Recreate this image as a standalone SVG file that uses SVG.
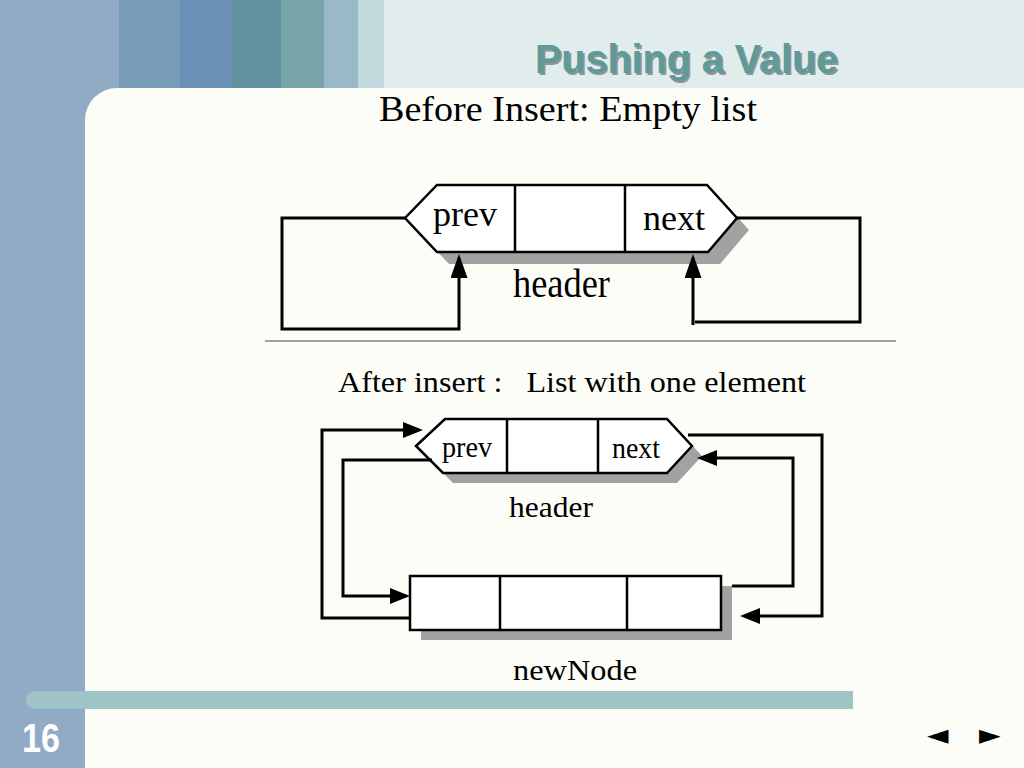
<svg xmlns="http://www.w3.org/2000/svg" width="1024" height="768" viewBox="0 0 1024 768">
<defs>
<style>
.serif{font-family:"Liberation Serif","Times New Roman",serif;fill:#000}
.ln{fill:none;stroke:#000;stroke-width:3;stroke-linejoin:miter}
.hex{fill:#fff;stroke:#000;stroke-width:2.5;stroke-linejoin:miter}
.shadow{fill:#a2a2a2}
.div{stroke:#000;stroke-width:2.5}
</style>
<marker id="arrBig" markerUnits="userSpaceOnUse" markerWidth="24" markerHeight="17" viewBox="0 0 24 17" refX="20" refY="8.5" orient="auto">
<path d="M0,0 L24,8.5 L0,17 Z" fill="#000"/>
</marker>
<marker id="arr" markerUnits="userSpaceOnUse" markerWidth="20" markerHeight="16" viewBox="0 0 20 16" refX="16" refY="8" orient="auto">
<path d="M0,0 L20,8 L0,16 Z" fill="#000"/>
</marker>
</defs>

<!-- background -->
<rect x="0" y="0" width="1024" height="768" fill="#91abc4"/>
<rect x="119" y="0" width="61" height="90" fill="#789db8"/>
<rect x="180" y="0" width="51" height="90" fill="#6b90b5"/>
<rect x="231" y="0" width="50" height="90" fill="#6292a2"/>
<rect x="281" y="0" width="43" height="90" fill="#78a4aa"/>
<rect x="324" y="0" width="34" height="90" fill="#99b9c8"/>
<rect x="358" y="0" width="26" height="90" fill="#c1d9dc"/>
<rect x="384" y="0" width="640" height="90" fill="#e1eded"/>
<path d="M85,768 V120 A32,32 0 0 1 117,88 H1024 V768 Z" fill="#fdfdf8"/>
<path d="M35,691 H853 V709 H35 A9,9 0 0 1 35,691 Z" fill="#9fc4c5"/>

<!-- title -->
<g id="title" font-family="'Liberation Sans',Arial,sans-serif" font-weight="bold" font-size="40">
<text x="537" y="75" fill="#8c9696" textLength="303" lengthAdjust="spacingAndGlyphs">Pushing a Value</text>
<text x="535" y="73" fill="#5f9a98" textLength="303" lengthAdjust="spacingAndGlyphs">Pushing a Value</text>
</g>
<text x="22" y="752" font-family="'Liberation Sans',Arial,sans-serif" font-weight="bold" font-size="40" fill="#fff" textLength="38" lengthAdjust="spacingAndGlyphs">16</text>
<g id="nav" font-family="'DejaVu Sans',sans-serif" font-size="28" fill="#000">
<text x="927" y="744">◄</text>
<text x="979" y="744">►</text>
</g>

<!-- headings -->
<text class="serif" x="379" y="121" font-size="35" textLength="378" lengthAdjust="spacingAndGlyphs">Before Insert: Empty list</text>
<text class="serif" x="338" y="392" font-size="29" textLength="468" lengthAdjust="spacingAndGlyphs" xml:space="preserve">After insert :   List with one element</text>
<line x1="265" y1="341" x2="896" y2="341" stroke="#444" stroke-width="1"/>

<!-- top header node -->
<g id="header-empty">
<polygon class="shadow" points="417,230 449,197 719,197 749,230 720,264 449,264"/>
<polygon class="hex" points="405,218 437,185 707,185 737,218 708,252 437,252"/>
<line class="div" x1="515" y1="185" x2="515" y2="252"/>
<line class="div" x1="625" y1="185" x2="625" y2="252"/>
<text class="serif" x="433" y="226" font-size="36" textLength="64" lengthAdjust="spacingAndGlyphs">prev</text>
<text class="serif" x="643" y="230" font-size="36" textLength="62" lengthAdjust="spacingAndGlyphs">next</text>
<text class="serif" x="513" y="297" font-size="39" textLength="97" lengthAdjust="spacingAndGlyphs">header</text>
</g>

<!-- bottom header node -->
<g id="header-one">
<polygon class="shadow" points="426,456 455,429 677,429 702,456 677,483 453,483"/>
<polygon class="hex" points="416,446 445,419 667,419 692,446 667,473 443,473"/>
<line class="div" x1="507" y1="419" x2="507" y2="473"/>
<line class="div" x1="598" y1="419" x2="598" y2="473"/>
<text class="serif" x="442" y="457" font-size="29" textLength="50" lengthAdjust="spacingAndGlyphs">prev</text>
<text class="serif" x="612" y="458" font-size="29" textLength="48" lengthAdjust="spacingAndGlyphs">next</text>
<text class="serif" x="509" y="517" font-size="30" textLength="84" lengthAdjust="spacingAndGlyphs">header</text>
</g>

<!-- newNode -->
<g id="newNode">
<rect class="shadow" x="421" y="586" width="311" height="54" fill="#9a9aa0"/>
<rect x="410" y="576" width="311" height="54" fill="#fff" stroke="#000" stroke-width="2.5"/>
<line class="div" x1="500" y1="576" x2="500" y2="630"/>
<line class="div" x1="627" y1="576" x2="627" y2="630"/>
<text class="serif" x="513" y="680" font-size="30" textLength="124" lengthAdjust="spacingAndGlyphs">newNode</text>
</g>

<!-- connectors -->
<g id="connectors">
<path class="ln" d="M405,218 H282 V329 H459 V258" marker-end="url(#arrBig)"/>
<path class="ln" d="M737,218 H860 V322 H695"/>
<path class="ln" d="M693,325 V258" marker-end="url(#arrBig)"/>
<path class="ln" d="M410,618 H322 V430 H419" marker-end="url(#arr)"/>
<path class="ln" d="M432,460 H343 V596 H406" marker-end="url(#arr)"/>
<path class="ln" d="M688,435 H822 V616 H744" marker-end="url(#arr)"/>
<path class="ln" d="M732,586 H793 V458 H701" marker-end="url(#arr)"/>
</g>
</svg>
